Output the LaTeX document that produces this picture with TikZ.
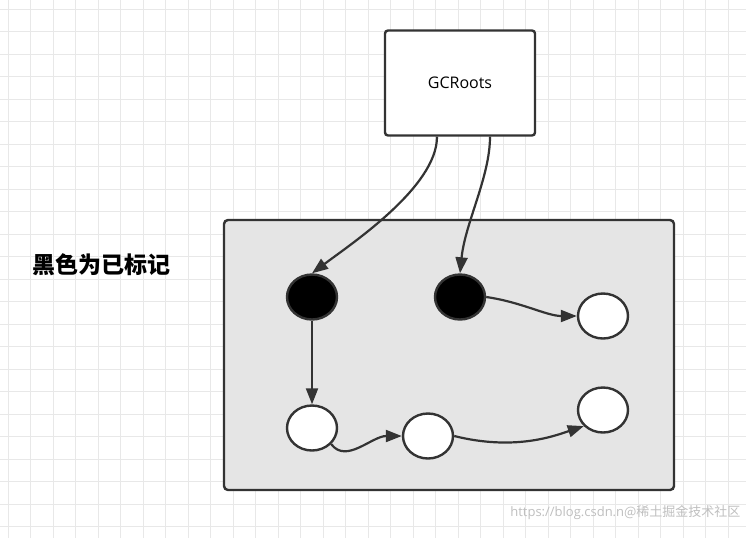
\documentclass[tikz,border=0pt]{standalone}
\usepackage{fontspec}
\setmainfont{Open Sans}
\newfontfamily\cjk{Noto Sans CJK SC}
\usetikzlibrary{arrows.meta,shapes.geometric}
\begin{document}
\begin{tikzpicture}[x=1pt,y=-1pt,
  circ/.style={ellipse,draw=black!80,line width=2.4pt,minimum width=50pt,minimum height=45pt,inner sep=0pt},
  blk/.style={circ,fill=black},
  wht/.style={circ,fill=white},
  conn/.style={draw=black!80,line width=2.2pt,-{Triangle[length=16pt,width=12pt]}}]
\fill[white] (0,0) rectangle (746,538);
\useasboundingbox (0,0) rectangle (746,538);
\foreach \i in {0,...,33} {\draw[black!9,line width=1pt] ({8+22.5*\i},0) -- ({8+22.5*\i},538);}
\foreach \i in {0,...,24} {\draw[black!9,line width=1pt] (0,{9+22.5*\i}) -- (746,{9+22.5*\i});}
\draw[black!80,line width=2.4pt,fill=black!10,rounded corners=4pt] (224,220) rectangle (674,490);
\node[draw=black!80,line width=2.4pt,fill=white,rounded corners=3pt,minimum width=150pt,minimum height=105pt,font=\fontsize{16}{19}\selectfont] (gc) at (460,83) {GCRoots};
\node[font=\cjk\bfseries\fontsize{23}{26}\selectfont] (lbl) at (101,265) {黑色为已标记};
\node[blk] (b1) at (312,297) {};
\node[blk] (b2) at (460,297) {};
\node[wht] (w3) at (603,316) {};
\node[wht] (w1) at (312,428) {};
\node[wht] (w2) at (428,436) {};
\node[wht] (w4) at (603,410) {};
\draw[conn] ([xshift=-23pt]gc.south) .. controls +(0,50) and +(40,-30) .. (b1.north);
\draw[conn] ([xshift=30pt]gc.south) .. controls +(0,40) and +(5,-50) .. (b2.north);
\draw[conn] (b1.south) .. controls +(0,30) and +(0,-30) .. (w1.north);
\draw[conn] (b2.east) .. controls +(35,5) and +(-30,0) .. (w3.west);
\draw[conn] (w1.-40) .. controls +(15,20) and +(-30,0) .. (w2.west);
\draw[conn] (w2.east) .. controls +(60,15) and +(-30,10) .. (w4.-140);
\node[anchor=east,black!25,font=\fontsize{13}{15}\selectfont] (wm) at (744,513) {https://blog.csdn.n{\cjk @稀土掘金技术社区}};
\end{tikzpicture}
\end{document}
